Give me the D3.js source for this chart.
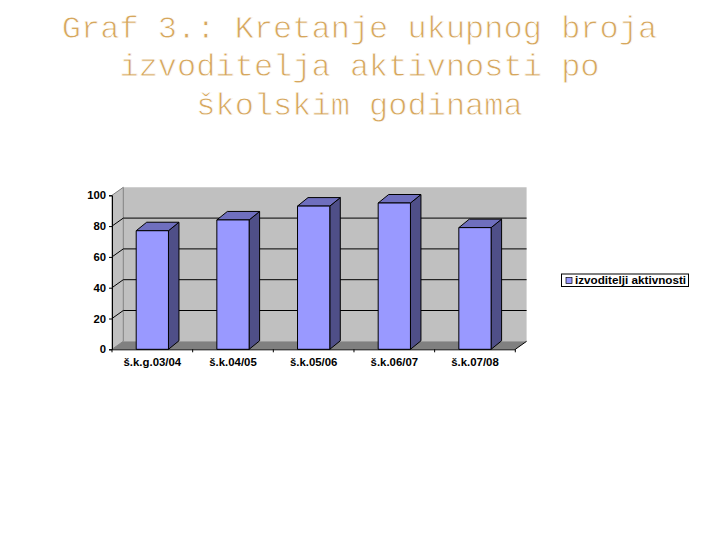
<!DOCTYPE html>
<html>
<head>
<meta charset="utf-8">
<script src="https://cdnjs.cloudflare.com/ajax/libs/d3/7.8.5/d3.min.js"></script>
<style>
body { margin: 0; background: #fff; }
svg { display: block; }
.lab { font-family: "Liberation Sans", Arial, sans-serif; font-weight: bold; fill: #000; }
</style>
</head>
<body>
<script>
let titleLines = ["Graf 3.: Kretanje ukupnog broja", "izvoditelja aktivnosti po", "školskim godinama"];
let categories = ["š.k.g.03/04", "š.k.04/05", "š.k.05/06", "š.k.06/07", "š.k.07/08"];
let values = [77, 84, 93, 95, 79];
let yTicks = [0, 20, 40, 60, 80, 100];
let seriesName = "izvoditelji aktivnosti";

let w = 720, h = 540;
let dx = 11.3, dy = -8; // 3d wall offset
let barDx = 10.5, barDy = -8.5;

let svg = d3.select("body").append("svg").attr("width", w).attr("height", h);

// title, white outline thins the glyphs down to a courier weight
svg.append("g").selectAll("text")
   .data(titleLines)
   .enter()
   .append("text")
   .attr("x", 359.5)
   .attr("y", (d, i) => 38 + i * 38.4)
   .attr("text-anchor", "middle")
   .style("font-family", '"Liberation Mono", monospace')
   .style("font-size", "32px")
   .style("fill", "#D6A75E")
   .style("stroke", "#fff")
   .style("stroke-width", "0.8px")
   .text(d => d);

let x = d3.scaleBand().domain(categories).range([112, 515.3]).paddingInner(0.6).paddingOuter(0.3);
let xTickScale = d3.scaleBand().domain(categories).range([112, 515.3]);
let y = d3.scaleLinear().domain([0, 100]).range([349.3, 195.3]);

let x0 = 112, x1 = 515.3, y0 = y(0), yTop = y(100);

let poly = (pts, fill, stroke) => svg.append("polygon")
   .attr("points", pts.map(p => p.join(",")).join(" "))
   .attr("fill", fill)
   .attr("stroke", stroke || "none")
   .attr("stroke-width", 1);

// back wall, left wall, floor
poly([[x0 + dx, yTop + dy], [x1 + dx, yTop + dy], [x1 + dx, y0 + dy], [x0 + dx, y0 + dy]], "#C0C0C0");
poly([[x0, yTop], [x0 + dx, yTop + dy], [x0 + dx, y0 + dy], [x0, y0]], "#C0C0C0", "#808080");
poly([[x0, y0], [x0 + dx, y0 + dy], [x1 + dx, y0 + dy], [x1, y0]], "#808080");

// gridlines on the walls
let grid = svg.append("g");
yTicks.slice(1, -1).forEach(t => {
	grid.append("path")
	    .attr("d", d3.line()([[x0, y(t)], [x0 + dx, y(t) + dy], [x1 + dx, y(t) + dy]]))
	    .attr("fill", "none")
	    .attr("stroke", "#000")
	    .attr("stroke-width", 1);
});

// floor edge at the right
svg.append("line")
   .attr("x1", x1).attr("y1", y0).attr("x2", x1 + dx).attr("y2", y0 + dy)
   .attr("stroke", "#000");

// bars
categories.forEach((c, i) => {
	let bx = x(c), bw = x.bandwidth(), by = y(values[i]);
	poly([[bx + bw, y0], [bx + bw + barDx, y0 + barDy], [bx + bw + barDx, by + barDy], [bx + bw, by]], "#4F4F88", "#000");
	poly([[bx, by], [bx + barDx, by + barDy], [bx + bw + barDx, by + barDy], [bx + bw, by]], "#6F6FBE", "#000");
	poly([[bx, by], [bx + bw, by], [bx + bw, y0], [bx, y0]], "#9999FF", "#000");
});

// axes
let yAxis = d3.axisLeft(y).tickValues(yTicks).tickSize(3).tickPadding(3);
let gy = svg.append("g").attr("transform", "translate(" + x0 + ",0)").call(yAxis);
gy.selectAll("text").attr("class", "lab").style("font-size", "11.3px");

let xAxis = d3.axisBottom(xTickScale).tickSize(0).tickPadding(9);
let gx = svg.append("g").attr("transform", "translate(0," + y0 + ")").call(xAxis);
gx.selectAll("text").attr("class", "lab").style("font-size", "11.4px");
gx.selectAll(".tick line").remove();
gx.selectAll(".sep")
  .data(d3.range(6))
  .enter()
  .append("line")
  .attr("class", "sep")
  .attr("x1", i => x0 + i * xTickScale.step())
  .attr("x2", i => x0 + i * xTickScale.step())
  .attr("y1", 0).attr("y2", 3)
  .attr("stroke", "#000");

// legend
let legend = svg.append("g").attr("class", "legend");
legend.append("rect")
      .attr("x", 561.5).attr("y", 274).attr("width", 127).attr("height", 12.5)
      .attr("fill", "#fff").attr("stroke", "#000");
legend.append("rect")
      .attr("x", 566).attr("y", 277.5).attr("width", 6).attr("height", 6)
      .attr("fill", "#9999FF").attr("stroke", "#000").attr("stroke-width", 0.7);
legend.append("text")
      .attr("class", "lab")
      .attr("x", 575).attr("y", 284)
      .style("font-size", "11.7px")
      .text(seriesName);
</script>
</body>
</html>
